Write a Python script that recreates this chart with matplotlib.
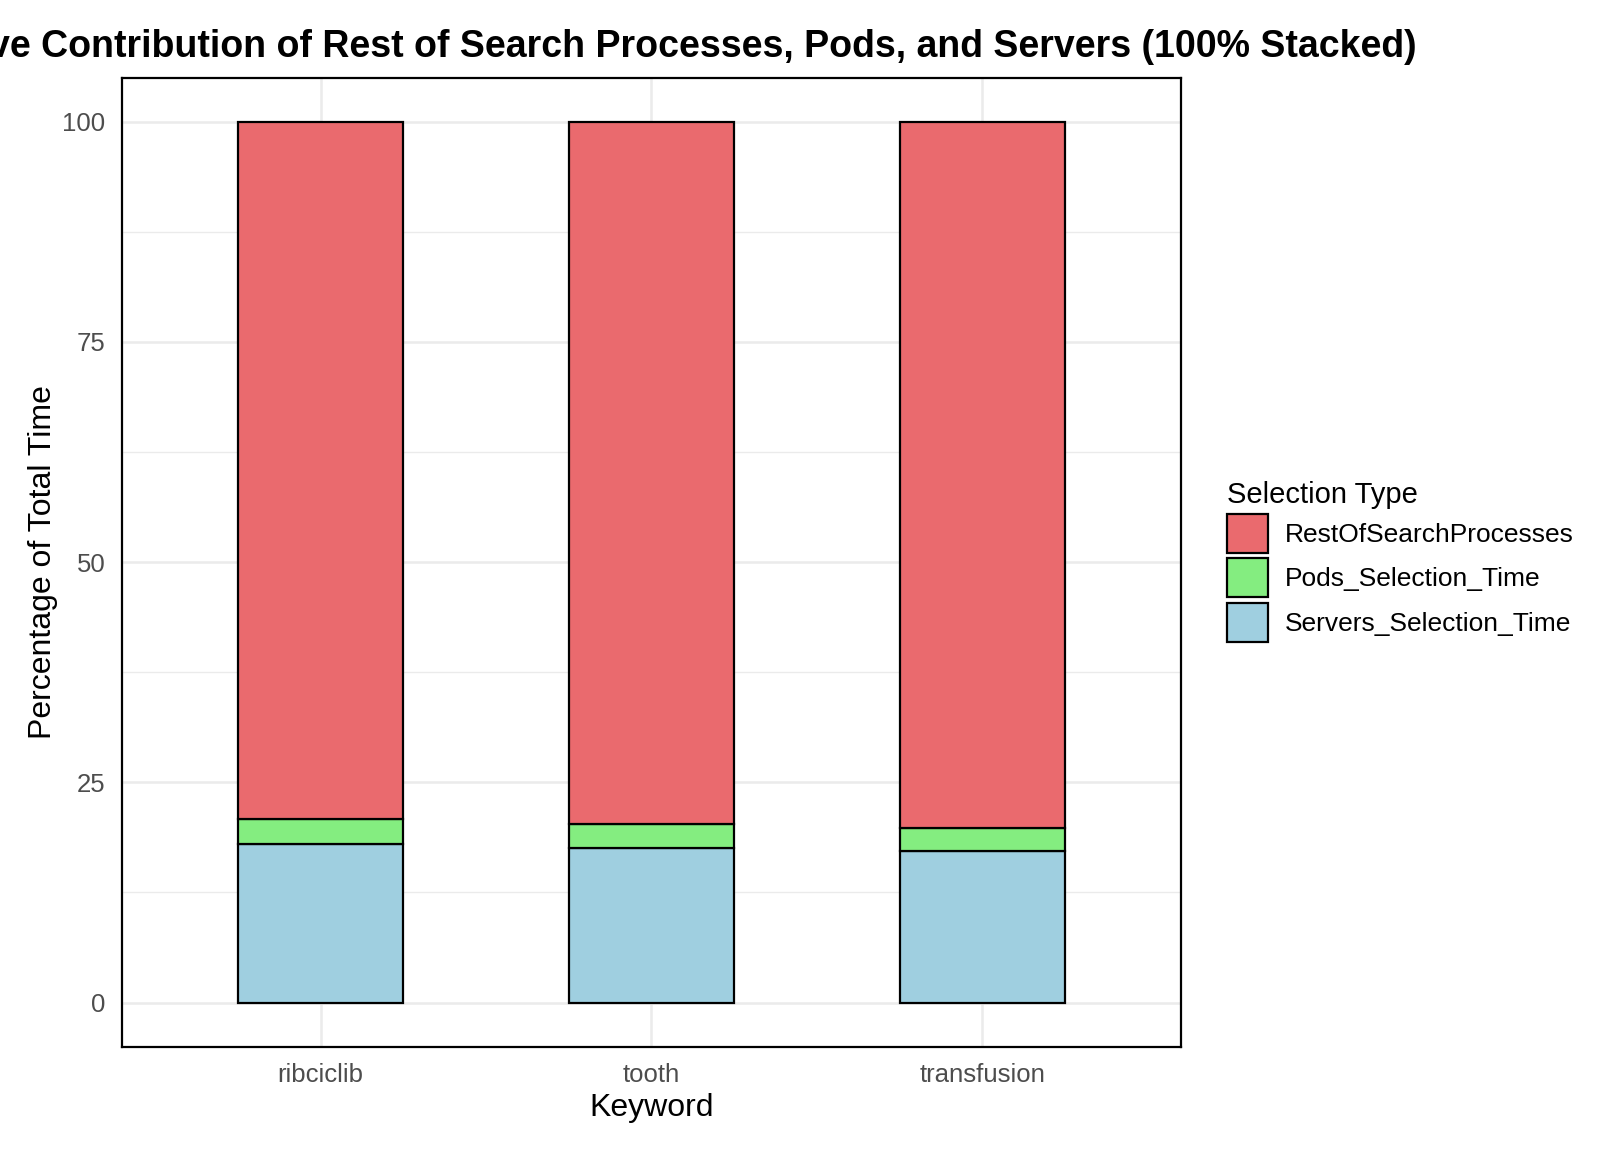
import matplotlib.pyplot as plt
from matplotlib.patches import Patch

keywords = ['ribciclib', 'tooth', 'transfusion']
servers = [18.0, 17.6, 17.2]
pods = [2.8, 2.7, 2.6]
rest = [100 - s - p for s, p in zip(servers, pods)]

col_rest = '#EA6A6E'
col_pods = '#84ED80'
col_serv = '#9FCFE0'

plt.rcParams['font.family'] = ['Liberation Sans', 'DejaVu Sans']

fig = plt.figure(figsize=(16.2, 11.5), dpi=100)
ax = fig.add_axes([0.0753, 0.0899, 0.6537, 0.8427])

x = list(range(1, len(keywords) + 1))
ax.bar(x, servers, width=0.5, color=col_serv, edgecolor='black', linewidth=1.6, zorder=3)
ax.bar(x, pods, width=0.5, bottom=servers, color=col_pods, edgecolor='black', linewidth=1.6, zorder=3)
bot = [s + p for s, p in zip(servers, pods)]
ax.bar(x, rest, width=0.5, bottom=bot, color=col_rest, edgecolor='black', linewidth=1.6, zorder=3)

ax.set_xlim(0.4, 3.6)
ax.set_ylim(-5, 105)
ax.set_xticks(x)
ax.set_xticklabels(keywords)
ax.set_yticks([0, 25, 50, 75, 100])
ax.set_yticks([12.5, 37.5, 62.5, 87.5], minor=True)
ax.tick_params(axis='both', which='both', length=0, labelsize=18.5, labelcolor='#4D4D4D', pad=12)
ax.grid(True, which='major', color='#EBEBEB', linewidth=1.8, zorder=0)
ax.grid(True, which='minor', axis='y', color='#EBEBEB', linewidth=1.0, zorder=0)
for s in ax.spines.values():
    s.set_color('black')
    s.set_linewidth(1.6)

ax.set_xlabel('Keyword', fontsize=23, labelpad=4)
ax.set_ylabel('Percentage of Total Time', fontsize=23, labelpad=3)
# title is wider than the panel; left part runs off the figure like the original
ax.set_title('Relative Contribution of Rest of Search Processes, Pods, and Servers (100% Stacked)',
             fontsize=27, fontweight='bold', pad=15)

handles = [Patch(facecolor=col_rest, edgecolor='black', linewidth=1.6, label='RestOfSearchProcesses'),
           Patch(facecolor=col_pods, edgecolor='black', linewidth=1.6, label='Pods_Selection_Time'),
           Patch(facecolor=col_serv, edgecolor='black', linewidth=1.6, label='Servers_Selection_Time')]
leg = fig.legend(handles=handles, title='Selection Type', loc='center left',
                 bbox_to_anchor=(0.751, 0.512), frameon=False, fontsize=19,
                 title_fontsize=21, handlelength=1.55, handleheight=1.9,
                 labelspacing=0.2, handletextpad=0.65, borderaxespad=0)
leg._legend_box.align = 'left'

fig.savefig('out.png', dpi=100)
